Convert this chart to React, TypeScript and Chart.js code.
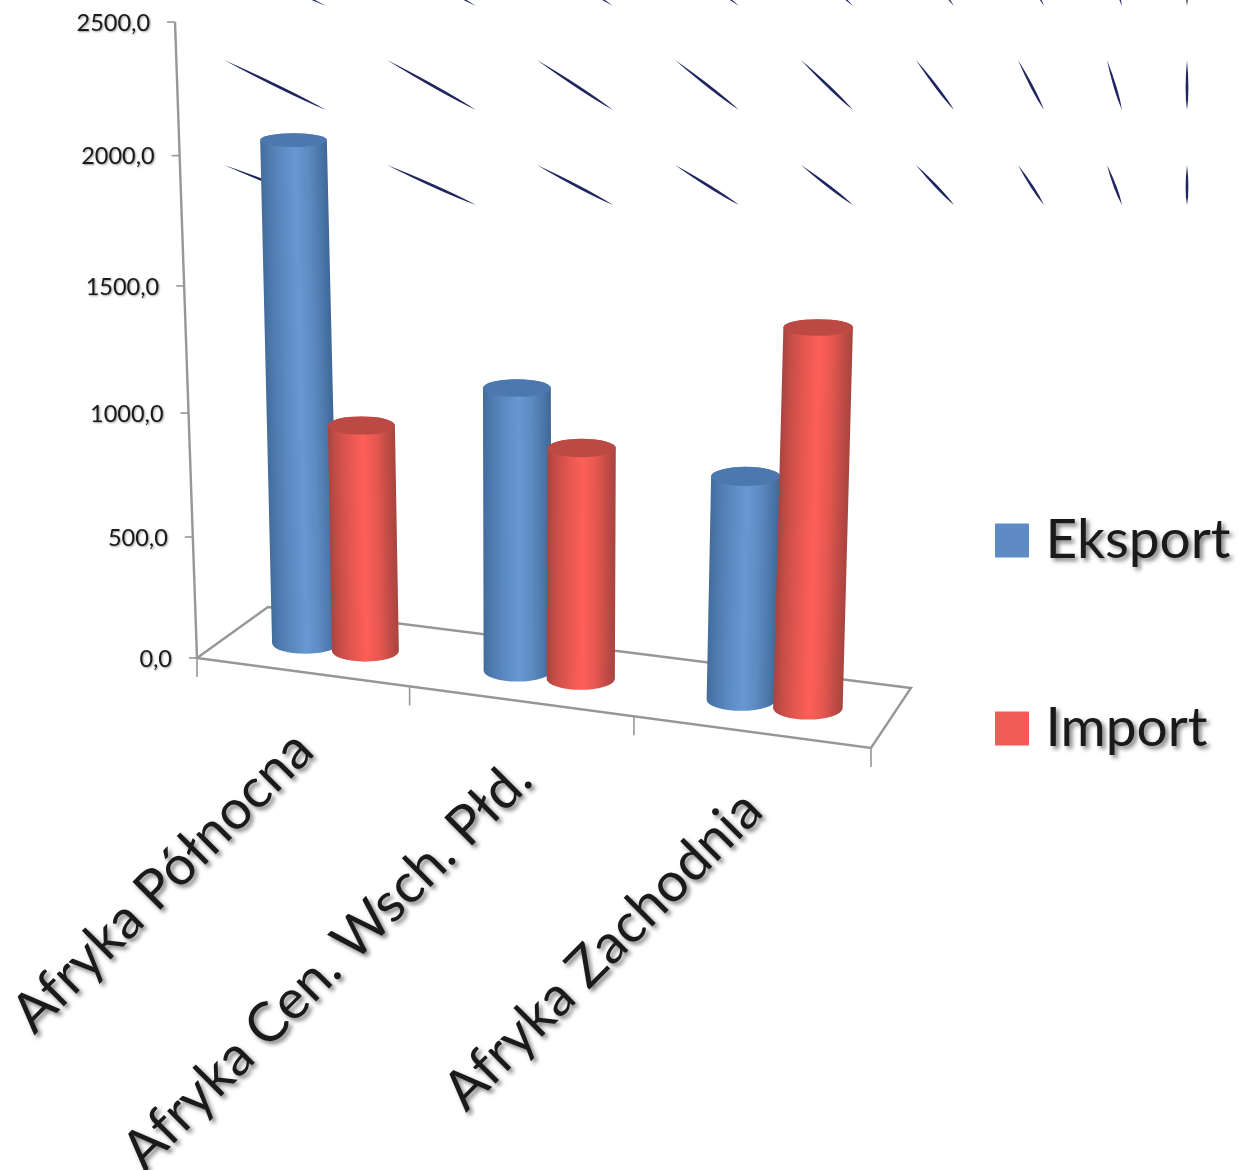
import React, { useEffect, useRef } from "react";
import { Chart, registerables, LinearScale, CategoryScale } from "chart.js";

const categories = ["Afryka Północna", "Afryka Cen. Wsch. Płd.", "Afryka Zachodnia"];
const eksport = [2030, 1138, 883];
const importy = [928, 928, 1473];
const seriesNames = ["Eksport", "Import"];
const sliverStartX = [224, 387, 537, 675, 801, 916, 1018, 1107, 1187];
const sliverEndX = [326, 476, 613, 739, 853, 954, 1044, 1122, 1187];
const sliverRows = [[-43, 6], [60, 110], [165, 205]];

const FONT = "Lato";
const AXIS = "#979797";
const INK = "#1a1a1a";
const STOP_AT = [0, 0.12, 0.32, 0.52, 0.72, 0.88, 1];
const BLUE = ["#436c9b", "#4d7aaf", "#5c8ac2", "#6898d3", "#5c8ac1", "#4b78ab", "#3f6796"];
const RED = ["#a8443f", "#c64d47", "#e65750", "#fc5f58", "#e55750", "#c04b46", "#a8443f"];
const CAPS = ["#4b78ae", "#bb4a45"];

// Perspective of the floor and the vertical axis (u along the front edge, d into depth, t height)
const M = {
  a: 605.8, b: 85.2, c: 197,
  d: 31.4, e: -18.8, f: 658,
  g: -0.0783, h: 0.0531,
  tx: -32.5, ty: -637.3, tw: -0.0601,
};
function project(u: number, d: number, t: number) {
  const w = M.g * u + M.h * d + 1 + M.tw * t;
  return {
    x: (M.a * u + M.b * d + M.c + M.tx * t) / w,
    y: (M.d * u + M.e * d + M.f + M.ty * t) / w,
  };
}
const FLOOR_MID = 0.47;
const FLOOR_SHIFT = 0.002;

function withShadow(ctx: CanvasRenderingContext2D, blur: number, off: number, alpha: number) {
  ctx.shadowColor = `rgba(0,0,0,${alpha})`;
  ctx.shadowBlur = blur;
  ctx.shadowOffsetX = off;
  ctx.shadowOffsetY = off;
}

class PerspectiveY extends (LinearScale as any) {
  static id = "perspectiveY";
  static defaults = {};
  getPixelForValue(v: number) {
    return project(0, 0, v / (this as any).max).y;
  }
  _computeLabelArea() {
    return undefined;
  }
  _computeLabelItems(ca: any) {
    const items = super._computeLabelItems(ca);
    const self = this as any;
    items.forEach((it: any, i: number) => {
      const p = project(0, 0, self.ticks[i].value / self.max);
      it.textOffset = 0;
      it.options = { ...it.options, translation: [p.x - 25, p.y + 1], textAlign: "right", textBaseline: "middle" };
    });
    return items;
  }
  drawLabels(ca: any) {
    const ctx = (this as any).ctx;
    ctx.save();
    withShadow(ctx, 2, 1, 0.4);
    super.drawLabels(ca);
    ctx.restore();
  }
}

class PerspectiveX extends (CategoryScale as any) {
  static id = "perspectiveX";
  static defaults = {};
  _computeLabelArea() {
    return undefined;
  }
  _computeLabelItems(ca: any) {
    const items = super._computeLabelItems(ca);
    const n = categories.length;
    items.forEach((it: any, i: number) => {
      const p = project((i + 0.5) / n, 0, 0);
      it.textOffset = 0;
      it.options = { ...it.options, translation: [p.x + 2, p.y + 69], textAlign: "right", textBaseline: "middle", rotation: -Math.PI / 4 };
    });
    return items;
  }
  drawLabels(ca: any) {
    const ctx = (this as any).ctx;
    ctx.save();
    withShadow(ctx, 4, 3, 0.5);
    super.drawLabels(ca);
    ctx.restore();
  }
}

Chart.register(...registerables, PerspectiveY as any, PerspectiveX as any);

function line(ctx: CanvasRenderingContext2D, pts: { x: number; y: number }[], close = false) {
  ctx.beginPath();
  pts.forEach((p, i) => (i ? ctx.lineTo(p.x, p.y) : ctx.moveTo(p.x, p.y)));
  if (close) ctx.closePath();
  ctx.stroke();
}

function drawSliver(ctx: CanvasRenderingContext2D, x0: number, y0: number, x1: number, y1: number) {
  const dx = x1 - x0, dy = y1 - y0;
  const len = Math.hypot(dx, dy);
  const nx = -dy / len, ny = dx / len;
  const mx = x0 + dx * 0.62, my = y0 + dy * 0.62;
  ctx.beginPath();
  ctx.moveTo(x0, y0);
  ctx.quadraticCurveTo(mx + nx * 2.8, my + ny * 2.8, x1, y1);
  ctx.quadraticCurveTo(mx - nx * 2.8, my - ny * 2.8, x0, y0);
  ctx.closePath();
  ctx.fill();
}

function drawCylinder(ctx: CanvasRenderingContext2D, el: any, value: number, xs: any, ys: any, di: number) {
  const u = (el.x - xs.left) / xs.width + FLOOR_SHIFT;
  const r = el.width / 2 / xs.width;
  const t = value / ys.max;
  const ry = (y: number) => 5.7 + 0.008 * y;
  const c0 = project(u, FLOOR_MID, 0);
  const c1 = project(u, FLOOR_MID, t);
  const a = project(u - r, FLOOR_MID, 0), b = project(u + r, FLOOR_MID, 0);
  const rx = 33.8 + ((b.x - a.x) / 2 - 33.5) * 0.35;
  const dx = c1.x - c0.x, dy = c1.y - c0.y;
  const L = Math.hypot(dx, dy);
  const nx = -dy / L, ny = dx / L;
  const gx0 = c0.x - nx * rx, gy0 = c0.y - ny * rx;
  const g = ctx.createLinearGradient(gx0, gy0, gx0 + nx * 2 * rx, gy0 + ny * 2 * rx);
  const stops = di === 0 ? BLUE : RED;
  STOP_AT.forEach((s, i) => g.addColorStop(s, stops[i]));
  ctx.beginPath();
  ctx.moveTo(c1.x - rx, c1.y);
  ctx.lineTo(c0.x - rx, c0.y);
  ctx.ellipse(c0.x, c0.y, rx, ry(c0.y), 0, Math.PI, 0, true);
  ctx.lineTo(c1.x + rx, c1.y);
  ctx.ellipse(c1.x, c1.y, rx, ry(c1.y), 0, 0, Math.PI, true);
  ctx.closePath();
  ctx.fillStyle = g;
  ctx.fill();
  ctx.beginPath();
  ctx.ellipse(c1.x, c1.y, rx, ry(c1.y), 0, 0, Math.PI * 2);
  ctx.fillStyle = CAPS[di];
  ctx.fill();
}

const perspectivePlugin = {
  id: "perspective",
  afterLayout(chart: any) {
    const lg = chart.legend;
    if (!lg) return;
    const pad = lg.options.labels.padding;
    lg.left = 1006 - pad;
    lg.top = 513 - pad;
    lg.right = 1238;
    lg.bottom = 1170;
    if (!lg.__patched) {
      lg.__patched = true;
      const orig = lg.draw.bind(lg);
      lg.draw = () => {
        const ctx = chart.ctx;
        const ft = ctx.fillText;
        ctx.fillText = function (...a: any[]) {
          ctx.save();
          withShadow(ctx, 4, 3, 0.5);
          ft.apply(ctx, a);
          ctx.restore();
        };
        orig();
        delete ctx.fillText;
      };
    }
  },
  beforeDatasetsDraw(chart: any) {
    const ctx = chart.ctx as CanvasRenderingContext2D;
    const xs = chart.scales.x, ys = chart.scales.y;
    ctx.save();
    // floor and axes
    ctx.strokeStyle = AXIS;
    ctx.lineWidth = 2.4;
    line(ctx, [project(0, 0, 0), project(1, 0, 0), project(1, 1, 0), project(0, 1, 0)], true);
    line(ctx, [project(0, 0, 1), project(0, 0, 0)]);
    ctx.lineWidth = 1.6;
    for (let i = 0; i <= categories.length; i++) {
      const p = project(i / categories.length, 0, 0);
      line(ctx, [p, { x: p.x, y: p.y + 19 }]);
    }
    ys.ticks.forEach((tk: any) => {
      const p = project(0, 0, tk.value / ys.max);
      line(ctx, [{ x: p.x - 8, y: p.y }, p]);
    });
    // stray slivers of the original picture
    ctx.fillStyle = "#1f2560";
    sliverRows.forEach(([y0, y1]) => {
      sliverStartX.forEach((x0, i) => drawSliver(ctx, x0, y0, sliverEndX[i], y1));
    });
    // cylinders
    chart.data.datasets.forEach((ds: any, di: number) => {
      const meta = chart.getDatasetMeta(di);
      meta.data.forEach((el: any, i: number) => drawCylinder(ctx, el, ds.data[i], xs, ys, di));
    });
    ctx.restore();
  },
  beforeDatasetDraw() {
    return false;
  },
};

export default function App() {
  const ref = useRef<HTMLCanvasElement>(null);
  useEffect(() => {
    if (!ref.current) return;
    const chart = new Chart(ref.current, {
      type: "bar",
      data: {
        labels: categories,
        datasets: [
          { label: seriesNames[0], data: eksport, backgroundColor: "#5f8bc5" },
          { label: seriesNames[1], data: importy, backgroundColor: "#f15d56" },
        ],
      },
      options: {
        responsive: false,
        animation: false,
        events: [],
        datasets: { bar: { categoryPercentage: 0.576, barPercentage: 1.08 } },
        scales: {
          x: {
            type: "perspectiveX" as any,
            grid: { display: false },
            border: { display: false },
            ticks: { autoSkip: false, minRotation: 45, maxRotation: 45, color: INK, font: { family: FONT, size: 55 } },
          },
          y: {
            type: "perspectiveY" as any,
            min: 0,
            max: 2500,
            grid: { display: false },
            border: { display: false },
            ticks: {
              stepSize: 500,
              color: INK,
              font: { family: FONT, size: 23.5 },
              callback: (v: any) => Number(v).toFixed(1).replace(".", ","),
            },
          },
        },
        plugins: {
          tooltip: { enabled: false },
          legend: {
            position: "right",
            align: "start",
            labels: {
              boxWidth: 12,
              boxHeight: 12,
              padding: 133,
              color: INK,
              font: { family: FONT, size: 55 },
              generateLabels: (c: any) =>
                c.data.datasets.map((ds: any, i: number) => ({
                  text: ds.label,
                  fillStyle: ds.backgroundColor,
                  strokeStyle: ds.backgroundColor,
                  lineWidth: 22,
                  datasetIndex: i,
                  fontColor: INK,
                })),
            },
          },
        },
      },
      plugins: [perspectivePlugin],
    } as any);
    return () => chart.destroy();
  }, []);
  return (
    <canvas
      ref={ref}
      width={1238}
      height={1170}
      style={{ position: "absolute", left: 0, top: 0, display: "block", width: 1238, height: 1170 }}
    />
  );
}
